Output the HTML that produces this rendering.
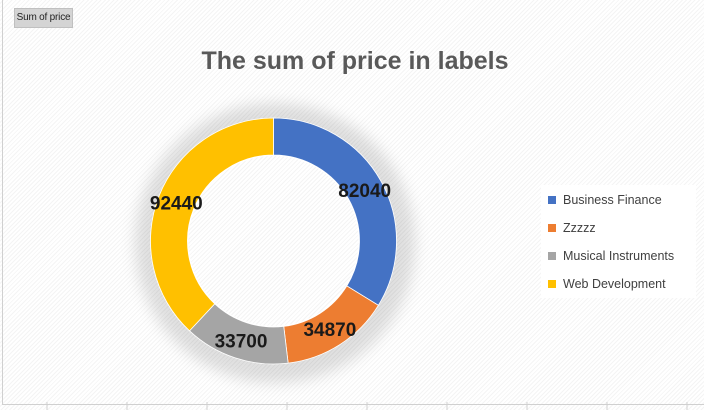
<!DOCTYPE html>
<html><head><meta charset="utf-8"><style>
body{margin:0;width:704px;height:410px;overflow:hidden;background:#fff;font-family:"Liberation Sans",sans-serif;}
#wrap{position:relative;width:704px;height:410px;background:repeating-linear-gradient(135deg,#fff 0 2px,#f4f4f4 2px 3px);}
#btn{position:absolute;left:14px;top:8px;width:59px;height:20px;background:#d4d4d4;border:1px solid #c0c0c0;box-sizing:border-box;font-size:10px;letter-spacing:-0.2px;line-height:18px;text-align:center;color:#222;white-space:nowrap;overflow:hidden;}
#title{position:absolute;left:0;width:710px;top:47px;text-align:center;font-size:25px;font-weight:bold;color:#595959;}
#legend{position:absolute;left:541px;top:185px;width:155px;height:113px;background:#fff;}
.li{position:absolute;left:7px;font-size:12.5px;color:#404040;white-space:nowrap;}
.sw{display:inline-block;width:8px;height:8px;margin-right:7px;vertical-align:0px;}
</style></head><body>
<div id="wrap">
<svg width="704" height="410" style="position:absolute;left:0;top:0">
<defs><filter id="sh" x="-30%" y="-30%" width="160%" height="160%"><feGaussianBlur stdDeviation="7"/></filter></defs>
<g id="grid"></g>
<circle cx="275" cy="243" r="122" fill="none" stroke="#000" stroke-opacity="0.12" stroke-width="36" filter="url(#sh)"/>
<circle cx="273.5" cy="241" r="104" fill="none" stroke="#fff" stroke-width="38"/>
<g id="slices"></g>
<g id="labels"></g>
</svg>
<div id="btn">Sum of price</div>
<div id="title">The sum of price in labels</div>
<div id="legend"></div>
</div>
<script>
const categories=["Business Finance","Zzzzz","Musical Instruments","Web Development"];
const values=[82040,34870,33700,92440];
const colors=["#4472c4","#ed7d31","#a5a5a5","#ffc000"];
const cx=273.5,cy=241,R=123,r=86,LR=104.5;
const ns="http://www.w3.org/2000/svg";
const total=values.reduce((a,b)=>a+b,0);
function pt(rad,a){return [cx+rad*Math.sin(a),cy-rad*Math.cos(a)];}
const gS=document.getElementById('slices'),gL=document.getElementById('labels'),gG=document.getElementById('grid');
for(let i=0;i<9;i++){const l=document.createElementNS(ns,'line');const x=47+i*80;l.setAttribute('x1',x);l.setAttribute('x2',x);l.setAttribute('y1',402);l.setAttribute('y2',410);l.setAttribute('stroke','#d0d0d0');


gG.appendChild(l);}
const lb=document.createElementNS(ns,'path');lb.setAttribute('d','M2.5 0V404.5H704');lb.setAttribute('stroke','#d0d0d0');lb.setAttribute('fill','none');


gG.appendChild(lb);
let acc=0;
values.forEach((v,i)=>{
 const a0=acc/total*2*Math.PI;acc+=v;const a1=acc/total*2*Math.PI;
 const big=(a1-a0)>Math.PI?1:0;
 const [x0,y0]=pt(R,a0),[x1,y1]=pt(R,a1),[x2,y2]=pt(r,a1),[x3,y3]=pt(r,a0);
 const p=document.createElementNS(ns,'path');
 p.setAttribute('d',`M${x0} ${y0}A${R} ${R} 0 ${big} 1 ${x1} ${y1}L${x2} ${y2}A${r} ${r} 0 ${big} 0 ${x3} ${y3}Z`);
 p.setAttribute('fill',colors[i]);p.setAttribute('stroke','#fff');p.setAttribute('stroke-width','0.8');
 
 
 gS.appendChild(p);
 const [lx,ly]=pt(LR,(a0+a1)/2);
 const t=document.createElementNS(ns,'text');
 t.setAttribute('x',lx);t.setAttribute('y',ly+7);t.setAttribute('text-anchor','middle');
 t.setAttribute('font-size','19');t.setAttribute('font-weight','bold');t.setAttribute('fill','#1a1a1a');
 t.setAttribute('font-family','Liberation Sans, sans-serif');
 t.textContent=v;
 
 
 gL.appendChild(t);
});
const leg=document.getElementById('legend');
categories.forEach((c,i)=>{
 const d=document.createElement('div');d.className='li';d.style.top=(8+i*28)+'px';
 d.innerHTML='<span class="sw" style="background:'+colors[i]+'"></span>'+c;
 
 
 leg.appendChild(d);
});
</script>
</body></html>
